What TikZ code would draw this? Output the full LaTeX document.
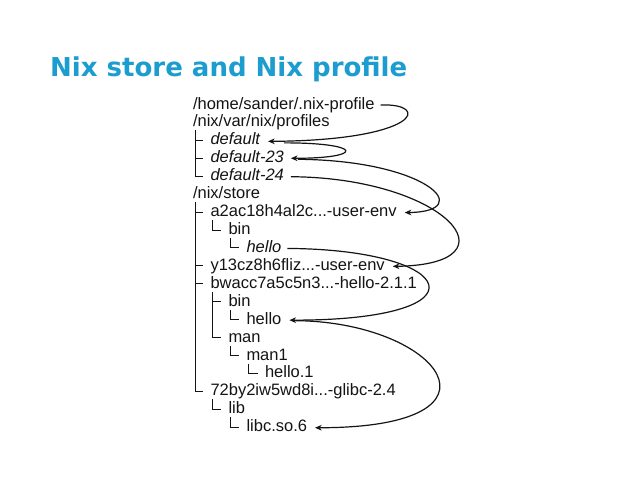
\documentclass[tikz,border=0pt]{standalone}
\usepackage{fontspec}
\setmainfont{Liberation Sans}
\newfontfamily\titlefont{DejaVu Sans}
\usetikzlibrary{arrows.meta}
\definecolor{titleblue}{RGB}{27,157,208}
\definecolor{ink}{RGB}{20,20,20}
\tikzset{
  entry/.style={anchor=base west, inner sep=0pt, outer sep=0pt, text=ink, font=\fontsize{16.5}{18}\selectfont},
  ientry/.style={entry, font=\fontsize{16.5}{18}\selectfont\itshape},
  treeline/.style={draw=ink, line width=1pt},
  link/.style={draw=ink, line width=1.2pt, -{Stealth[length=6.5pt,width=5.5pt,inset=1.8pt]}},
}
\newcommand{\tr}[2]{\draw[treeline] ([xshift=2pt,yshift=-3.5pt]#1.base west) |- ([xshift=-7.5pt,yshift=4.5pt]#2.base west);}
\begin{document}
\begin{tikzpicture}[x=1pt,y=-1pt]
\useasboundingbox[fill=white] (0,0) rectangle (638,479);
\node[anchor=base west, inner sep=0pt, text=titleblue, font=\titlefont\bfseries\fontsize{26}{28}\selectfont] (title) at (50,76.5) {Nix store and Nix profile};

\node[entry]  (home)  at (193,109)    {/home/sander/.nix-profile};
\node[entry]  (prof)  at (193,126.93) {/nix/var/nix/profiles};
\node[ientry] (def)   at (210.5,144.86) {default};
\node[ientry] (d23)   at (210.5,162.79) {default-23};
\node[ientry] (d24)   at (210.5,180.72) {default-24};
\node[entry]  (store) at (193,198.65) {/nix/store};
\node[entry]  (a2ac)  at (210.5,216.58) {a2ac18h4al2c...-user-env};
\node[entry]  (abin)  at (228.5,234.51) {bin};
\node[ientry] (ahello) at (246.5,252.44) {hello};
\node[entry]  (y13)   at (210.5,270.37) {y13cz8h6fliz...-user-env};
\node[entry]  (bw)    at (210.5,288.3)  {bwacc7a5c5n3...-hello-2.1.1};
\node[entry]  (bbin)  at (228.5,306.23) {bin};
\node[entry]  (bhello) at (246.5,324.16) {hello};
\node[entry]  (man)   at (228.5,342.09) {man};
\node[entry]  (man1)  at (246.5,360.02) {man1};
\node[entry]  (hello1) at (265,377.95) {hello.1};
\node[entry]  (glibc) at (210.5,395.88) {72by2iw5wd8i...-glibc-2.4};
\node[entry]  (lib)   at (228.5,413.81) {lib};
\node[entry]  (libc)  at (246.5,431.74) {libc.so.6};

\tr{prof}{def}
\tr{prof}{d23}
\tr{prof}{d24}
\tr{store}{a2ac}
\tr{store}{y13}
\tr{store}{bw}
\tr{store}{glibc}
\tr{a2ac}{abin}
\tr{abin}{ahello}
\tr{bw}{bbin}
\tr{bw}{man}
\tr{bbin}{bhello}
\tr{man}{man1}
\tr{man1}{hello1}
\tr{glibc}{lib}
\tr{lib}{libc}

\draw[link] ([xshift=6pt,yshift=4pt]home.base east) .. controls +(51,-2) and +(152,-1) .. ([xshift=8pt,yshift=3.5pt]def.base east);
\draw[link] ([xshift=24pt,yshift=2pt]def.base east) .. controls +(80,0) and +(74,0) .. ([xshift=7pt,yshift=4.5pt]d23.base east);
\draw[link] ([xshift=14pt,yshift=3.5pt]d23.base east) .. controls +(130,1) and +(72,-1) .. ([xshift=8pt,yshift=4pt]a2ac.base east);
\draw[link] ([xshift=7pt,yshift=4pt]d24.base east) .. controls +(155,1) and +(128,-2) .. ([xshift=8pt,yshift=4pt]y13.base east);
\draw[link] ([xshift=6pt,yshift=4pt]ahello.base east) .. controls +(172,1) and +(201,0) .. ([xshift=8pt,yshift=4pt]bhello.base east);
\draw[link] ([xshift=14pt,yshift=3.5pt]bhello.base east) .. controls +(144,1) and +(206,0) .. ([xshift=8pt,yshift=4pt]libc.base east);
\end{tikzpicture}
\end{document}
